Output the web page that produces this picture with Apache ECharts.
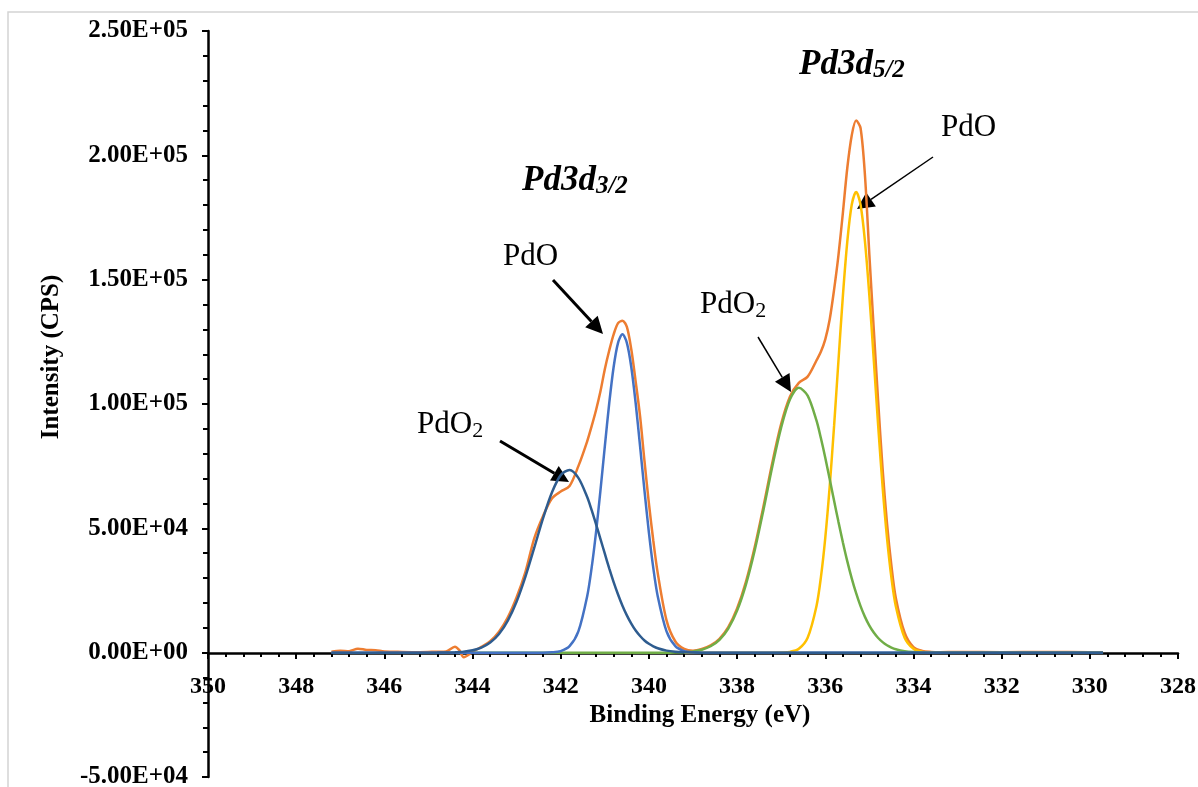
<!DOCTYPE html>
<html>
<head>
<meta charset="utf-8">
<script src="https://cdn.jsdelivr.net/npm/echarts@6/dist/echarts.min.js"></script>
<style>
html,body{margin:0;padding:0;background:#fff;}
#chart{width:1198px;height:787px;}
</style>
</head>
<body>
<div id="chart"></div>
<script>
// Binding energy grid (eV)
const energy = [
  347.2, 347.0, 346.8, 346.6, 346.4, 346.2, 346.0, 345.6, 345.2, 344.8, 344.6, 344.4, 344.3, 344.2, 344.0,
  343.8, 343.6, 343.4, 343.2, 343.0, 342.8, 342.6, 342.4, 342.2, 342.0, 341.8, 341.6, 341.4,
  341.3, 341.2, 341.1, 341.0, 340.9, 340.8, 340.7, 340.6, 340.5, 340.4, 340.3, 340.2, 340.1, 340.0, 339.9,
  339.8, 339.6, 339.4, 339.2, 339.0, 338.8, 338.6, 338.4, 338.2, 338.0, 337.8, 337.6, 337.4, 337.2, 337.0, 336.8, 336.6, 336.4,
  336.2, 336.1, 336.0, 335.9, 335.8, 335.7, 335.6, 335.5, 335.4, 335.3, 335.2, 335.1, 335.0, 334.9, 334.8, 334.7, 334.6, 334.5, 334.4,
  334.2, 334.0, 333.8, 333.6, 333.4, 333.0, 332.0, 331.0, 330.0, 329.7
];
// Measured envelope (orange)
const envelope = [
  400, 800, 600, 1600, 1100, 1000, 500, 300, 200, 400, 500, 2400, 1000, -1800, 300,
  2400, 4600, 8400, 14200, 22300, 32500, 46000, 55000, 62000, 64800, 67000, 75000, 85000,
  91000, 97500, 105000, 114000, 121500, 128000, 132500, 133500, 131000, 122000, 109000, 95000, 77000, 60000, 45000,
  32000, 13000, 4500, 1500, 800, 1500, 2900, 5600, 10300, 17800, 28500, 42500, 59000, 76500, 92000, 103000, 108500, 111000,
  117500, 121000, 126000, 134000, 146000, 160000, 177000, 195000, 208000, 214000, 211000, 192000, 160000, 130000, 101000, 74000, 52000, 35000, 22000,
  8000, 2200, 700, 300, 200, 300, 200, 300, 200, 200
];
// PdO2 3d3/2 component (dark blue)
const pdo2_3d32 = [
  0, 0, 0, 0, 0, 0, 0, 0, 0, 20, 70, 170, 270, 420, 960,
  2050, 4070, 7530, 12900, 20600, 30600, 42200, 54100, 64400, 71400, 73500, 70300, 62600,
  57400, 51700, 45800, 39800, 33900, 28400, 23400, 18900, 15000, 11700, 8900, 6700, 4900, 3570, 2540,
  1770, 820, 350, 140, 50, 0, 0, 0, 0, 0, 0, 0, 0, 0, 0, 0, 0, 0,
  0, 0, 0, 0, 0, 0, 0, 0, 0, 0, 0, 0, 0, 0, 0, 0, 0, 0, 0,
  0, 0, 0, 0, 0, 0, 0, 0, 0, 0
];
// PdO 3d3/2 component (light blue)
const pdo_3d32 = [
  0, 0, 0, 0, 0, 0, 0, 0, 0, 0, 0, 0, 0, 0, 0,
  0, 0, 0, 0, 0, 0, 0, 0, 130, 640, 2610, 8560, 22700,
  34000, 48300, 65100, 83000, 100300, 114900, 124600, 128000, 124600, 114900, 100300, 83000, 65100, 48300, 34000,
  22700, 8560, 2610, 640, 130, 0, 0, 0, 0, 0, 0, 0, 0, 0, 0, 0, 0, 0,
  0, 0, 0, 0, 0, 0, 0, 0, 0, 0, 0, 0, 0, 0, 0, 0, 0, 0, 0,
  0, 0, 0, 0, 0, 0, 0, 0, 0, 0
];
// PdO2 3d5/2 component (green)
const pdo2_3d52 = [
  null, null, null, null, null, null, null, null, null, null, null, null, null, null, 0,
  0, 0, 0, 0, 0, 0, 0, 0, 0, 0, 0, 0, 0,
  0, 0, 0, 0, 0, 0, 0, 0, 0, 0, 0, 0, 0, 0, 0,
  0, 0, 70, 200, 510, 1180, 2570, 5170, 9700, 16900, 27400, 41200, 57600, 75000, 90600, 101900, 106500, 103400,
  93400, 86300, 78400, 69800, 61100, 52500, 44300, 36700, 29900, 23900, 18700, 14400, 10900, 8100, 5900, 4230, 2970, 2050, 1390,
  600, 240, 90, 0, 0, 0, 0, 0, 0, 0
];
// PdO 3d5/2 component (yellow)
const pdo_3d52 = [
  null, null, null, null, null, null, null, null, null, null, null, null, null, null, null,
  null, null, null, null, null, null, null, null, null, null, null, null, null,
  null, null, null, null, null, null, null, null, null, null, null, null, null, null, null,
  null, null, null, 0, 0, 0, 0, 0, 0, 0, 0, 0, 0, 0, 50, 315, 1540, 6000,
  18700, 30200, 46200, 66800, 91200, 117700, 143600, 165400, 180100, 185300, 180100, 165400, 143600, 117700, 91200, 66800, 46200, 30200, 18700,
  6000, 1540, 315, 50, 0, 0, 0, 0, 0, 0
];
const xTicks = {min: 328, max: 350, step: 2};
const yTicks = {min: -50000, max: 250000, step: 50000};

const FONT = '"Liberation Serif", "Times New Roman", serif';

function pairs(vals) {
  const out = [];
  for (let i = 0; i < energy.length; i++) {
    if (vals[i] !== null && vals[i] !== undefined) out.push([energy[i], vals[i]]);
  }
  return out;
}
function sci(v) {
  if (v === 0) return '0.00E+00';
  const e = Math.floor(Math.log10(Math.abs(v)) + 1e-9);
  const m = v / Math.pow(10, e);
  return m.toFixed(2) + 'E' + (e < 0 ? '-' : '+') + String(Math.abs(e)).padStart(2, '0');
}
function lineSeries(name, vals, color) {
  return {
    name, type: 'line', data: pairs(vals), showSymbol: false, symbol: 'none',
    smooth: 0.3, lineStyle: {color, width: 2.5}, itemStyle: {color},
    emphasis: {disabled: true}, animation: false
  };
}

// Annotation arrows (pixel positions of start point and tip)
const arrows = [
  {x1: 553, y1: 280, x2: 603, y2: 334, w: 3},
  {x1: 500, y1: 441, x2: 569, y2: 482, w: 3},
  {x1: 758, y1: 337, x2: 791, y2: 392, w: 1.5},
  {x1: 933, y1: 157, x2: 857, y2: 209, w: 1.5}
];
function arrowGraphics(a) {
  const dx = a.x2 - a.x1, dy = a.y2 - a.y1;
  const len = Math.sqrt(dx * dx + dy * dy);
  const ux = dx / len, uy = dy / len;
  const h = 17, hw = 8.5;
  const bx = a.x2 - ux * h, by = a.y2 - uy * h;
  return [
    {type: 'line', shape: {x1: a.x1, y1: a.y1, x2: bx, y2: by}, style: {stroke: '#000', lineWidth: a.w}, silent: true},
    {type: 'polygon', shape: {points: [[a.x2, a.y2], [bx - uy * hw, by + ux * hw], [bx + uy * hw, by - ux * hw]]}, style: {fill: '#000'}, silent: true}
  ];
}
const measureCtx = document.createElement('canvas').getContext('2d');
function textWidth(text, size, weight, style) {
  measureCtx.font = (style || 'normal') + ' ' + (weight || 'normal') + ' ' + size + 'px ' + FONT;
  return measureCtx.measureText(text).width;
}
function txt(text, x, y, size, opts) {
  opts = opts || {};
  return {
    type: 'text', x, y, rotation: opts.rotation || 0, silent: true,
    style: {
      text, fill: '#000', align: opts.align || 'left', verticalAlign: 'middle',
      fontFamily: FONT, fontSize: size, fontWeight: opts.weight || 'normal', fontStyle: opts.style || 'normal'
    }
  };
}
// main text followed by a subscript
function subText(main, sub, x, y, size, subSize, opts, dy) {
  opts = opts || {};
  const w = textWidth(main, size, opts.weight, opts.style);
  return [txt(main, x, y, size, opts), txt(sub, x + w, y + dy, subSize, opts)];
}

const graphics = [
  {type: 'rect', shape: {x: 8, y: 12, width: 1250, height: 820}, style: {fill: 'none', stroke: '#d4d4d4', lineWidth: 1.5}, silent: true, z: -10},
  txt('Binding Energy (eV)', 700, 716, 25, {align: 'center', weight: 'bold'}),
  txt('Intensity (CPS)', 52, 357, 25, {align: 'center', weight: 'bold', rotation: Math.PI / 2})
];
graphics.push(...subText('Pd3d', '3/2', 522, 181, 35, 25, {weight: 'bold', style: 'italic'}, 6));
graphics.push(...subText('Pd3d', '5/2', 799, 65, 35, 25, {weight: 'bold', style: 'italic'}, 6));
graphics.push(txt('PdO', 503, 257, 31));
graphics.push(...subText('PdO', '2', 417, 425, 31, 22, {}, 6));
graphics.push(...subText('PdO', '2', 700, 305, 31, 22, {}, 6));
graphics.push(txt('PdO', 941, 128, 31));
arrows.forEach(a => graphics.push(...arrowGraphics(a)));

const chart = echarts.init(document.getElementById('chart'), null, {renderer: 'canvas'});
chart.setOption({
  animation: false,
  backgroundColor: '#fff',
  grid: {left: 208, right: 20, top: 31, bottom: 10, containLabel: false, outerBoundsMode: 'none'},
  xAxis: {
    type: 'value', inverse: true, min: xTicks.min, max: xTicks.max, interval: xTicks.step,
    position: 'bottom', offset: -124,
    axisLine: {show: true, onZero: false, lineStyle: {color: '#000', width: 2.5}},
    axisTick: {show: true, inside: false, length: 6, lineStyle: {color: '#000', width: 2}},
    minorTick: {show: true, splitNumber: 5, length: 4, lineStyle: {color: '#000', width: 2}},
    axisLabel: {show: true, margin: 22, color: '#000', fontFamily: FONT, fontSize: 24, fontWeight: 'bold', showMinLabel: true, showMaxLabel: true, hideOverlap: false},
    splitLine: {show: false}, minorSplitLine: {show: false}
  },
  yAxis: {
    type: 'value', min: yTicks.min, max: yTicks.max, interval: yTicks.step,
    axisLine: {show: true, onZero: false, lineStyle: {color: '#000', width: 2.5}},
    axisTick: {show: true, inside: false, length: 6, lineStyle: {color: '#000', width: 2}},
    minorTick: {show: true, splitNumber: 5, length: 5, lineStyle: {color: '#000', width: 2}},
    axisLabel: {show: true, margin: 20, color: '#000', fontFamily: FONT, fontSize: 25, fontWeight: 'bold', formatter: sci, showMinLabel: true, showMaxLabel: true, hideOverlap: false},
    splitLine: {show: false}, minorSplitLine: {show: false}
  },
  series: [
    lineSeries('Envelope', envelope, '#ED7D31'),
    lineSeries('PdO 3d5/2', pdo_3d52, '#FFC000'),
    lineSeries('PdO2 3d5/2', pdo2_3d52, '#70AD47'),
    lineSeries('PdO 3d3/2', pdo_3d32, '#4472C4'),
    lineSeries('PdO2 3d3/2', pdo2_3d32, '#2E5C8F')
  ],
  graphic: graphics
});
</script>
</body>
</html>
